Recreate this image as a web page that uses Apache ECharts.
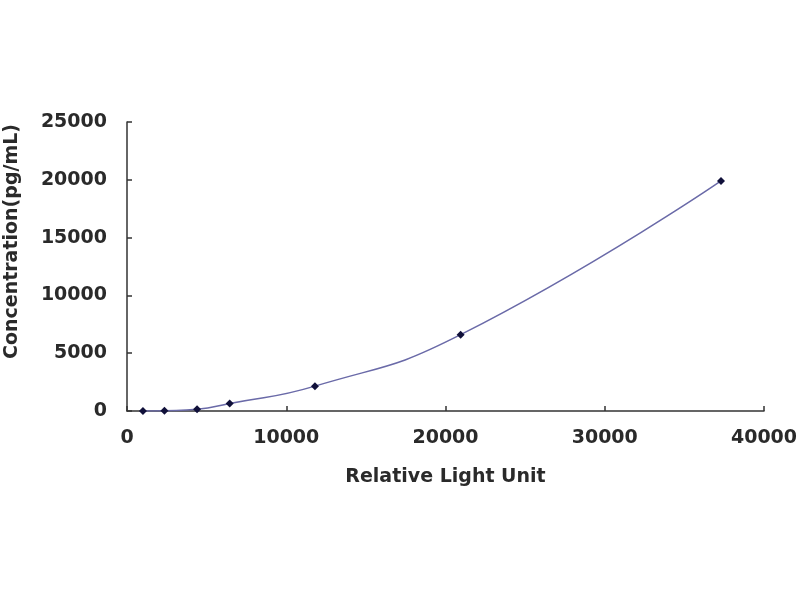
<!DOCTYPE html>
<html>
<head>
<meta charset="utf-8">
<script src="https://cdn.jsdelivr.net/npm/echarts@6/dist/echarts.min.js"></script>
<style>html,body{margin:0;padding:0;background:#fff;}#c{width:800px;height:600px;}</style>
</head>
<body>
<div id="c"></div>
<script>
const rluValues = [1000, 2350, 4400, 6450, 11800, 20950, 37300];
const concValues = [0, 30, 150, 650, 2150, 6600, 19900];
const xTitle = 'Relative Light Unit';
const yTitle = 'Concentration(pg/mL)';

const points = rluValues.map((x, i) => [x, concValues[i]]);
const font = 'DejaVu Sans';
const plain = v => String(v);
const chart = echarts.init(document.getElementById('c'));
chart.setOption({
  animation: false,
  backgroundColor: '#ffffff',
  grid: { left: 127, right: 36, top: 122, bottom: 189, containLabel: false, outerBoundsMode: 'none' },
  xAxis: {
    type: 'value', min: 0, max: 40000, interval: 10000,
    name: xTitle, nameLocation: 'middle', nameGap: 57,
    nameTextStyle: { fontFamily: font, fontWeight: 'bold', fontSize: 19, color: '#2a2a2a' },
    axisLine: { show: true, lineStyle: { color: '#333', width: 1.5 } },
    axisTick: { show: true, inside: true, length: 5, lineStyle: { color: '#333', width: 1.5 } },
    axisLabel: { fontFamily: font, fontWeight: 'bold', fontSize: 19, color: '#2a2a2a', margin: 18, formatter: plain },
    splitLine: { show: false }
  },
  yAxis: {
    type: 'value', min: 0, max: 25000, interval: 5000,
    name: yTitle, nameLocation: 'middle', nameGap: 105, nameRotate: 90,
    nameTextStyle: { fontFamily: font, fontWeight: 'bold', fontSize: 19, color: '#2a2a2a', padding: [0, 0, 0, 50] },
    axisLine: { show: true, lineStyle: { color: '#333', width: 1.5 } },
    axisTick: { show: true, inside: true, length: 5, lineStyle: { color: '#333', width: 1.5 } },
    axisLabel: { fontFamily: font, fontWeight: 'bold', fontSize: 19, color: '#2a2a2a', margin: 20, formatter: plain },
    splitLine: { show: false }
  },
  series: [{
    type: 'line',
    data: points,
    smooth: 0.5,
    symbol: 'diamond',
    symbolSize: 8,
    showAllSymbol: true,
    lineStyle: { color: '#6a6aa8', width: 1.5 },
    itemStyle: { color: '#10103a' }
  }]
});
</script>
</body>
</html>
